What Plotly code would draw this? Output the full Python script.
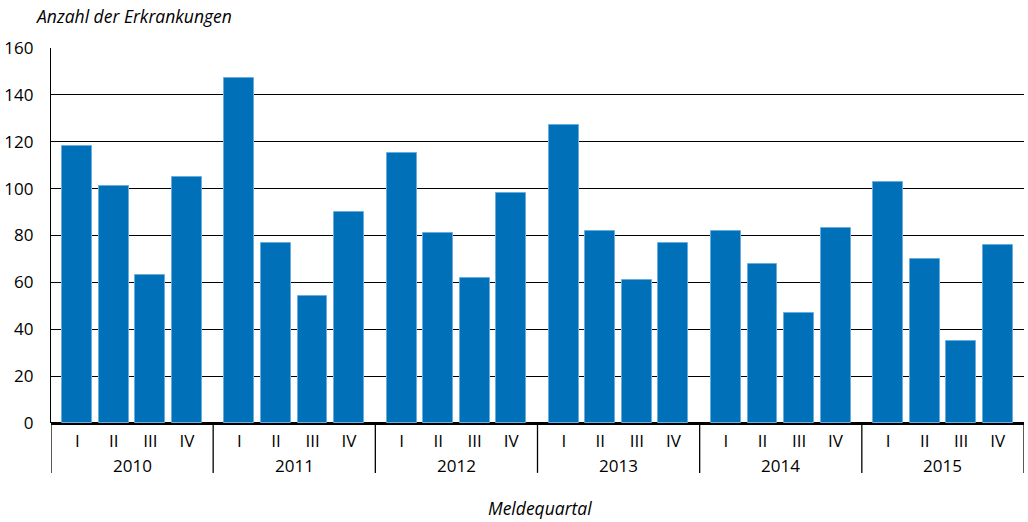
import plotly.graph_objects as go

years = ["2010", "2011", "2012", "2013", "2014", "2015"]
quarters = ["I", "II", "III", "IV"]
cases = [
    [118, 101, 63, 105],
    [147, 77, 54, 90],
    [115, 81, 62, 98],
    [127, 82, 61, 77],
    [82, 68, 47, 83],
    [103, 70, 35, 76],
]

# one group per year, a bit wider than 4 slots so the years stand apart
group_w = 4.44
first = 0.72

xs, ys, labels = [], [], []
for g, yr in enumerate(years):
    for q, qn in enumerate(quarters):
        xs.append(g * group_w + first + q)
        ys.append(cases[g][q])
        labels.append(qn)

font = "Open Sans"

fig = go.Figure()
fig.add_trace(go.Bar(
    x=xs, y=ys, width=0.82,
    marker=dict(color="#0070b8", line=dict(color="#6aaee0", width=1)),
    hoverinfo="y",
))

# year labels and dividers under the quarter ticks
for g, yr in enumerate(years):
    fig.add_annotation(x=g * group_w + group_w / 2, y=0, xref="x", yref="paper",
                       text=yr, showarrow=False, yanchor="middle", yshift=-42,
                       font=dict(size=17, color="black", family=font))
for g in range(len(years) + 1):
    fig.add_shape(type="line", xref="x", yref="paper",
                  x0=g * group_w, x1=g * group_w, y0=0, y1=-0.133,
                  line=dict(color="black", width=1.3))

fig.add_annotation(x=-17 / 973, y=1, xref="paper", yref="paper",
                   text="<i>Anzahl der Erkrankungen</i>", showarrow=False,
                   xanchor="left", yanchor="middle", yshift=32,
                   font=dict(size=17.5, color="black", family=font))
fig.add_annotation(x=0.503, y=0, xref="paper", yref="paper",
                   text="<i>Meldequartal</i>", showarrow=False,
                   yanchor="middle", yshift=-85,
                   font=dict(size=17.5, color="black", family=font))

fig.update_layout(
    width=1028, height=522,
    margin=dict(l=51, r=4, t=48, b=99),
    paper_bgcolor="white", plot_bgcolor="white",
    showlegend=False,
    bargap=0,
    font=dict(family=font, size=17, color="black"),
    xaxis=dict(
        range=[0, group_w * len(years)],
        tickvals=xs, ticktext=labels,
        showgrid=False, zeroline=False,
        showline=False, ticks="", ticklabelstandoff=6,
        automargin=False, fixedrange=True,
    ),
    yaxis=dict(
        range=[0, 160], dtick=20,
        showgrid=True, gridcolor="black", gridwidth=1.3,
        zeroline=True, zerolinecolor="black", zerolinewidth=2.5,
        showline=True, linecolor="black", linewidth=1.3,
        ticks="", ticklabelstandoff=13,
        automargin=False, fixedrange=True,
    ),
)

# drop the browser's default page margin so the figure sits at 0,0
fig.write_html("out.html", config={"displayModeBar": False},
               post_script="document.body.style.margin='0';")
